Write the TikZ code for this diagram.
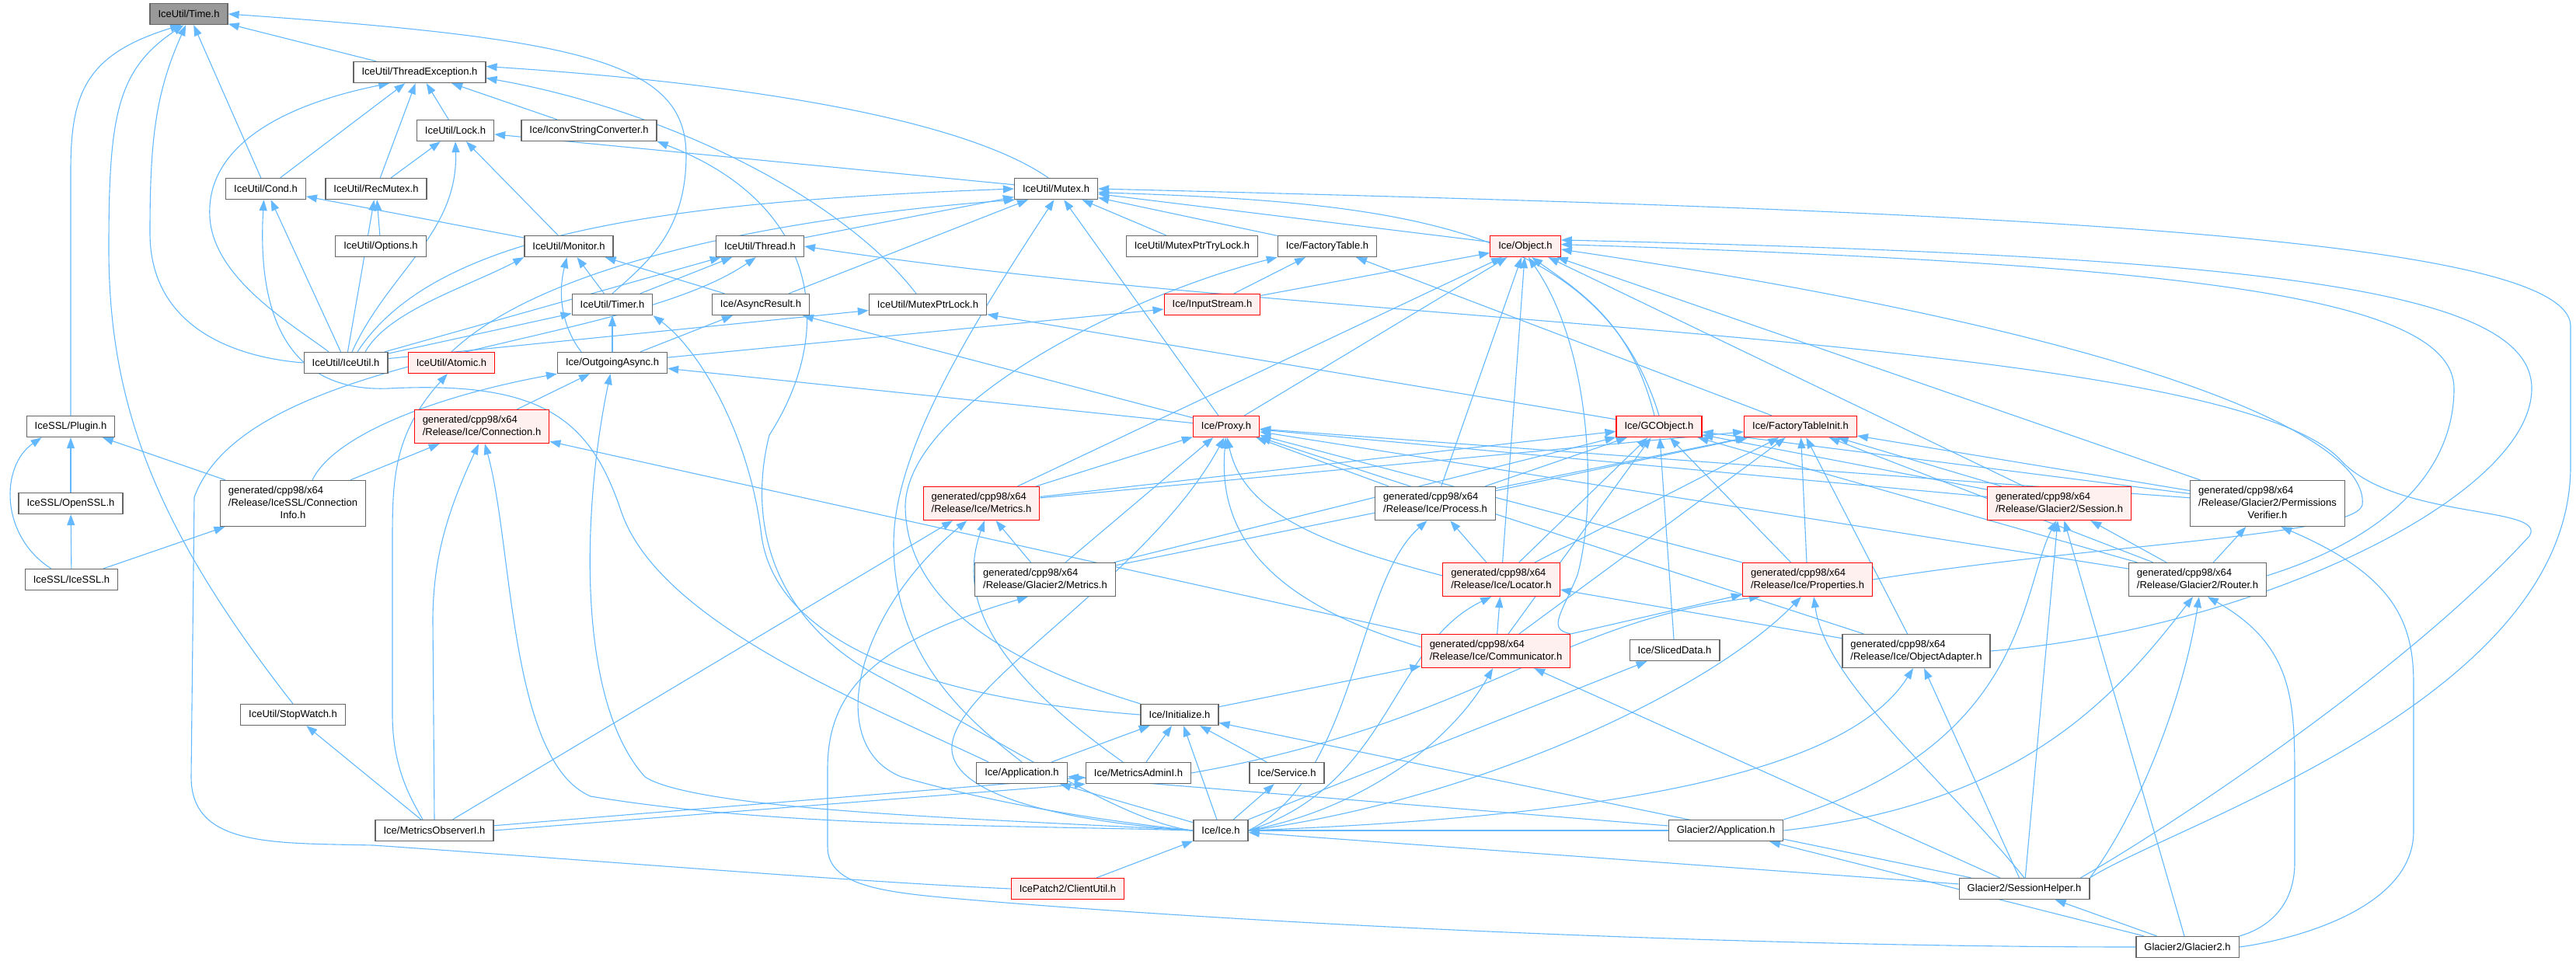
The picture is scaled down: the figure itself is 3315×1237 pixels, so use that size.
\documentclass[tikz,border=0pt]{standalone}
\usepackage{fontspec}
\setmainfont{Liberation Sans}
\usetikzlibrary{arrows.meta,backgrounds}
\definecolor{edgeblue}{HTML}{63B8FF}
\definecolor{boxgray}{HTML}{666666}
\definecolor{rootfill}{HTML}{999999}
\definecolor{redfill}{HTML}{FFF0F0}
\tikzset{
  file/.style={draw=boxgray, fill=white, line width=1.3pt, minimum height=27pt,
    inner xsep=10.5pt, inner ysep=5.5pt, font=\fontsize{13}{16}\selectfont},
  trunc/.style={file, draw=red, fill=redfill},
  root/.style={file, fill=rootfill},
  dep/.style={{Triangle[length=14pt,width=10pt]}-, draw=edgeblue, line width=1.1pt},
}
\newcommand{\twolines}[2]{\begin{tabular}{@{}l@{}}#1\\#2\end{tabular}}
\newcommand{\threelines}[3]{\begin{tabular}{@{}l@{}}#1\\#2\\\multicolumn{1}{@{}c@{}}{#3}\end{tabular}}
\newcommand{\gen}{generated/cpp98/x64}
\begin{document}
\begin{tikzpicture}[x=1pt,y=-1pt]
  \useasboundingbox (0,0) rectangle (3315,1237);
  \node[root] (time) at (243,18) {IceUtil/Time.h};
  \node[file] (thrdexc) at (540,93) {IceUtil/ThreadException.h};
  \node[file] (lock) at (586,168) {IceUtil/Lock.h};
  \node[file] (iconv) at (758,168) {Ice/IconvStringConverter.h};
  \node[file] (cond) at (342,243) {IceUtil/Cond.h};
  \node[file] (recmutex) at (484,243) {IceUtil/RecMutex.h};
  \node[file] (mutex) at (1359,243) {IceUtil/Mutex.h};
  \node[file] (options) at (490,317) {IceUtil/Options.h};
  \node[file] (monitor) at (732,317) {IceUtil/Monitor.h};
  \node[file] (thread) at (978,317) {IceUtil/Thread.h};
  \node[file] (trylock) at (1534,317) {IceUtil/MutexPtrTryLock.h};
  \node[file] (factab) at (1708,317) {Ice/FactoryTable.h};
  \node[trunc] (object) at (1963,317) {Ice/Object.h};
  \node[file] (timer) at (788,392) {IceUtil/Timer.h};
  \node[file] (asyncres) at (979,392) {Ice/AsyncResult.h};
  \node[file] (ptrlock) at (1194,392) {IceUtil/MutexPtrLock.h};
  \node[trunc] (instream) at (1560,392) {Ice/InputStream.h};
  \node[file] (iceutil) at (445,467) {IceUtil/IceUtil.h};
  \node[trunc] (atomic) at (581,467) {IceUtil/Atomic.h};
  \node[file] (outasync) at (788,467) {Ice/OutgoingAsync.h};
  \node[file] (plugin) at (91,549) {IceSSL/Plugin.h};
  \node[trunc] (connection) at (620,549) {\twolines{\gen}{/Release/Ice/Connection.h}};
  \node[trunc] (proxy) at (1578,549) {Ice/Proxy.h};
  \node[trunc] (gcobject) at (2135,549) {Ice/GCObject.h};
  \node[trunc] (ftinit) at (2317,549) {Ice/FactoryTableInit.h};
  \node[file] (openssl) at (91,648) {IceSSL/OpenSSL.h};
  \node[file] (conninfo) at (377,648) {\threelines{\gen}{/Release/IceSSL/Connection}{Info.h}};
  \node[trunc] (metrics) at (1263,648) {\twolines{\gen}{/Release/Ice/Metrics.h}};
  \node[file] (process) at (1847,648) {\twolines{\gen}{/Release/Ice/Process.h}};
  \node[trunc] (session) at (2650,648) {\twolines{\gen}{/Release/Glacier2/Session.h}};
  \node[file] (permverif) at (2918,648) {\threelines{\gen}{/Release/Glacier2/Permissions}{Verifier.h}};
  \node[file] (icessl) at (92,746) {IceSSL/IceSSL.h};
  \node[file] (gmetrics) at (1345,746) {\twolines{\gen}{/Release/Glacier2/Metrics.h}};
  \node[trunc] (locator) at (1932,746) {\twolines{\gen}{/Release/Ice/Locator.h}};
  \node[trunc] (properties) at (2326,746) {\twolines{\gen}{/Release/Ice/Properties.h}};
  \node[file] (router) at (2828,746) {\twolines{\gen}{/Release/Glacier2/Router.h}};
  \node[trunc] (communicator) at (1925,838) {\twolines{\gen}{/Release/Ice/Communicator.h}};
  \node[file] (sliced) at (2155,837) {Ice/SlicedData.h};
  \node[file] (objadapter) at (2466,838) {\twolines{\gen}{/Release/Ice/ObjectAdapter.h}};
  \node[file] (stopwatch) at (377,920) {IceUtil/StopWatch.h};
  \node[file] (initialize) at (1518,920) {Ice/Initialize.h};
  \node[file] (application) at (1315,995) {Ice/Application.h};
  \node[file] (madmin) at (1465,995) {Ice/MetricsAdminI.h};
  \node[file] (service) at (1656,995) {Ice/Service.h};
  \node[file] (obsi) at (559,1069) {Ice/MetricsObserverI.h};
  \node[file] (icehdr) at (1571,1069) {Ice/Ice.h};
  \node[file] (gapp) at (2221,1069) {Glacier2/Application.h};
  \node[trunc] (clientutil) at (1374,1144) {IcePatch2/ClientUtil.h};
  \node[file] (sesshelper) at (2605,1144) {Glacier2/SessionHelper.h};
  \node[file] (glacier) at (2815,1219) {Glacier2/Glacier2.h};

  \begin{pgfonlayer}{background}
    % straight includes: parent/children
    \foreach \p/\cs in {time/{thrdexc,cond}, thrdexc/{lock,iconv,cond,recmutex},
        lock/{recmutex,monitor,mutex}, cond/{monitor,iceutil}, recmutex/{iceutil,options},
        mutex/{thread,asyncres,trylock,factab,object,proxy}, monitor/{timer,asyncres},
        thread/{iceutil,timer}, timer/{iceutil,outasync}, asyncres/{outasync,proxy},
        ptrlock/{iceutil,gcobject}, factab/{instream,ftinit},
        object/{instream,proxy,metrics,process,locator,session,permverif},
        instream/{outasync}, outasync/{connection,proxy}, plugin/{openssl,conninfo},
        openssl/{icessl}, conninfo/{icessl}, connection/{conninfo,communicator},
        stopwatch/{obsi}, metrics/{obsi,gmetrics},
        proxy/{metrics,gmetrics,process,properties,objadapter,session,permverif,router},
        gcobject/{metrics,gmetrics,process,locator,communicator,properties,sliced,session,permverif,router},
        ftinit/{metrics,gmetrics,process,locator,communicator,properties,objadapter,session,permverif,router},
        process/{locator}, locator/{communicator,objadapter}, properties/{communicator},
        communicator/{initialize,sesshelper}, objadapter/{sesshelper},
        session/{router,sesshelper,glacier}, permverif/{router},
        initialize/{application,madmin,icehdr,service,sesshelper},
        application/{icehdr,gapp}, madmin/{obsi}, service/{icehdr}, sliced/{icehdr},
        icehdr/{clientutil,gapp,sesshelper}, gapp/{glacier}, sesshelper/{glacier}}
      {\foreach \c in \cs {\draw[dep] (\p) -- (\c);}}

    % routed includes
    \draw[dep] (time.-105) .. controls (200,120) and (193,180) .. (193,300)
      .. controls (193,420) and (300,460) .. (iceutil.west);
    \draw[dep] (time.east) .. controls (750,50) and (883,80) .. (883,200)
      .. controls (883,300) and (830,340) .. (timer.north);
    \draw[dep] (time.-125) .. controls (110,70) and (91,120) .. (91,220) -- (plugin.north);
    \draw[dep] (time.-115) .. controls (150,90) and (140,150) .. (140,320)
      .. controls (140,520) and (200,680) .. (stopwatch.north);
    \draw[dep] (thrdexc.-160) .. controls (340,140) and (265,200) .. (270,280)
      .. controls (275,360) and (380,420) .. ([xshift=-22pt]iceutil.north);
    \draw[dep] (thrdexc.5) .. controls (1000,110) and (1250,160) .. ([xshift=-10pt]mutex.north);
    \draw[dep] (thrdexc.-5) .. controls (850,140) and (1080,250) .. ([xshift=-15pt]ptrlock.north);
    \draw[dep] (lock.south) .. controls (590,300) and (500,350) .. ([xshift=8pt]iceutil.north);
    \draw[dep] (iconv.south east) .. controls (1050,260) and (1080,420) .. (990,560)
      .. controls (960,680) and (1000,800) .. (1130,870)
      .. controls (1300,960) and (1450,1060) .. (icehdr.west);
    \draw[dep] (cond.-100) .. controls (330,420) and (380,505) .. (500,500)
      .. controls (700,490) and (760,540) .. (800,660)
      .. controls (850,800) and (1100,900) .. ([xshift=16pt]application.north west);
    \draw[dep] (mutex.west) .. controls (850,260) and (560,300) .. ([xshift=15pt]iceutil.north);
    \draw[dep] (mutex.195) .. controls (1000,280) and (700,340) .. (atomic.north);
    \draw[dep] (mutex.-5) .. controls (1800,260) and (2060,290) .. (gcobject.north);
    \draw[dep] (mutex.-100) .. controls (1250,420) and (1150,580) .. (1150,700)
      .. controls (1150,850) and (1250,930) .. (application.north);
    \draw[dep] (mutex.east) .. controls (2500,270) and (3308,300) .. (3308,420) -- (3308,600)
      .. controls (3308,900) and (2800,1060) .. (sesshelper.north east);
    \draw[dep] (monitor.south west) .. controls (600,370) and (500,400) .. ([xshift=25pt]iceutil.north);
    \draw[dep] (monitor.-100) .. controls (715,390) and (730,430) .. ([xshift=-40pt]outasync.north);
    \draw[dep] (thread.-110) .. controls (800,450) and (320,450) .. (250,640) -- (246,1000)
      .. controls (246,1090) and (350,1085) .. (480,1088)
      .. controls (800,1110) and (1100,1135) .. (clientutil.west);
    \draw[dep] (thread.east) .. controls (1700,420) and (2850,430) .. (3010,590)
      .. controls (3080,670) and (3280,650) .. (3255,690)
      .. controls (3100,860) and (2800,1060) .. ([xshift=-12pt]sesshelper.north east);
    \draw[dep] (timer.south east) .. controls (900,450) and (965,560) .. (980,690)
      .. controls (1000,830) and (1200,900) .. (initialize.west);
    \draw[dep] (factab.south west) .. controls (1450,380) and (1170,520) .. (1165,650)
      .. controls (1165,800) and (1350,870) .. (initialize.north west);
    \draw[dep] (object.-60) .. controls (2040,380) and (2100,420) .. ([xshift=-6pt]gcobject.north);
    \draw[dep] (object.-75) .. controls (2050,450) and (2055,650) .. (2030,740)
      .. controls (2010,790) and (1990,810) .. (communicator.north east);
    \draw[dep] (object.10) .. controls (2900,330) and (3258,370) .. (3258,500)
      .. controls (3258,640) and (2900,810) .. (objadapter.east);
    \draw[dep] (object.3) .. controls (2800,340) and (3158,380) .. (3158,500)
      .. controls (3158,620) and (3050,700) .. ([yshift=5pt]router.east);
    \draw[dep] (object.-5) .. controls (2750,430) and (3050,560) .. (3040,650)
      .. controls (3030,690) and (2700,700) .. (properties.east);
    \draw[dep] (proxy.-85) .. controls (1600,660) and (1700,700) .. ([yshift=5pt]locator.west);
    \draw[dep] (proxy.-92) .. controls (1565,700) and (1650,780) .. ([yshift=5pt]communicator.west);
    \draw[dep] (outasync.south west) .. controls (560,510) and (430,560) .. ([xshift=25pt]conninfo.north);
    \draw[dep] (atomic.-110) .. controls (505,560) and (505,620) .. (505,700) -- (505,920)
      .. controls (505,990) and (530,1030) .. ([xshift=-15pt]obsi.north);
    \draw[dep] (connection.-100) .. controls (575,660) and (557,720) .. (557,800) -- (obsi.north);
    \draw[dep] (connection.-80) .. controls (660,700) and (655,980) .. (760,1025)
      .. controls (1000,1065) and (1300,1062) .. (icehdr.west);
    \draw[dep] (outasync.-100) .. controls (750,650) and (740,900) .. (830,1000)
      .. controls (900,1045) and (1300,1055) .. (icehdr.west);
    \draw[dep] ([xshift=20pt]plugin.south west) .. controls (0,600) and (0,690) .. ([xshift=34pt]icessl.north west);
    \draw[dep] (metrics.-130) .. controls (1100,790) and (1060,960) .. (1160,1000)
      .. controls (1300,1040) and (1450,1060) .. (icehdr.west);
    \draw[dep] (metrics.-80) .. controls (1235,760) and (1260,850) .. ([xshift=-20pt]madmin.north);
    \draw[dep] (proxy.-100) .. controls (1480,740) and (1230,880) .. (1225,960)
      .. controls (1220,1030) and (1400,1060) .. (icehdr.west);
    \draw[dep] (process.-115) .. controls (1745,750) and (1745,1000) .. (icehdr.east);
    \draw[dep] (locator.-120) .. controls (1790,830) and (1790,1010) .. (icehdr.east);
    \draw[dep] (communicator.-100) .. controls (1870,950) and (1760,1040) .. (icehdr.east);
    \draw[dep] (properties.-110) .. controls (2200,890) and (1900,1030) .. (icehdr.east);
    \draw[dep] (properties.-70) .. controls (2350,880) and (2500,1000) .. (sesshelper.north);
    \draw[dep] (properties.200) .. controls (2000,800) and (1900,930) .. (madmin.east);
    \draw[dep] (objadapter.-100) .. controls (2380,990) and (2100,1050) .. (icehdr.east);
    \draw[dep] (session.-100) .. controls (2600,760) and (2610,960) .. (gapp.north east);
    \draw[dep] (router.-105) .. controls (2720,900) and (2600,1035) .. (gapp.east);
    \draw[dep] (router.-85) .. controls (2810,900) and (2750,1050) .. (sesshelper.north east);
    \draw[dep] (router.-60) .. controls (2950,830) and (2953,900) .. (2953,1000) -- (2953,1110)
      .. controls (2953,1180) and (2900,1200) .. (glacier.north east);
    \draw[dep] (permverif.-60) .. controls (3080,740) and (3106,800) .. (3106,880) -- (3106,1070)
      .. controls (3106,1170) and (2950,1210) .. (glacier.east);
    \draw[dep] (gmetrics.-135) .. controls (1110,830) and (1065,900) .. (1065,990) -- (1065,1090)
      .. controls (1065,1145) and (1150,1150) .. (1270,1160)
      .. controls (1700,1195) and (2300,1219) .. (glacier.west);
    \draw[dep] (madmin.south west) -- (obsi.east);
  \end{pgfonlayer}
\end{tikzpicture}
\end{document}
